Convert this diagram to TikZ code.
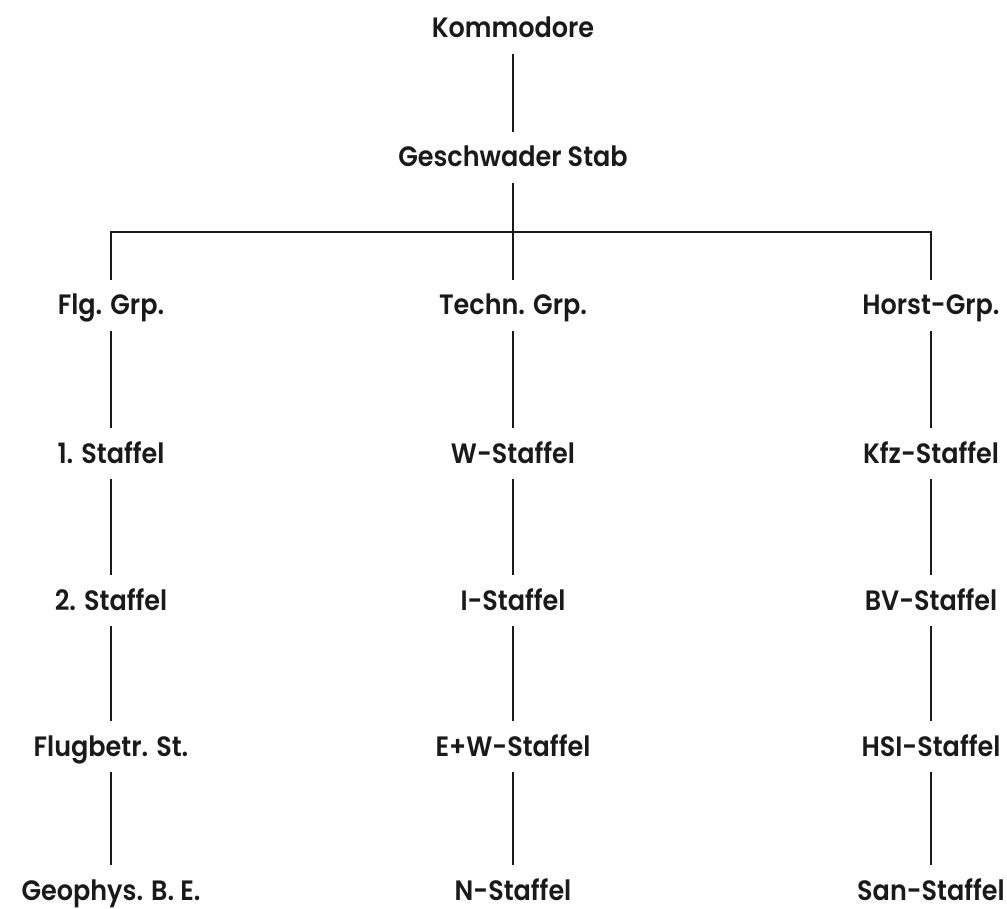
\documentclass[tikz,border=0pt]{standalone}
\usepackage{fontspec}
\setmainfont{Poppins SemiBold}[FakeStretch=0.91]
\definecolor{ink}{HTML}{1A1A1A}
\tikzset{
  unit/.style={anchor=base, font=\fontsize{28}{30}\selectfont, text=ink,
    text height=21pt, text depth=2pt, inner xsep=2pt, inner ysep=14pt},
  link/.style={draw=ink, line width=1.8pt}
}
\begin{document}
\begin{tikzpicture}[x=1pt,y=1pt]
\useasboundingbox (0,0) rectangle (1007,-909);
\node[unit] (k) at (513,-38) {Kommodore};
\node[unit] (gs) at (513,-167) {Geschwader Stab};
\coordinate (bar) at (513,-232);
% left column
\node[unit] (fg) at (111,-315) {Flg. Grp.};
\node[unit] (s1) at (111,-463) {1. Staffel};
\node[unit] (s2) at (111,-610) {2. Staffel};
\node[unit] (fb) at (111,-756) {Flugbetr. St.};
\node[unit] (ge) at (111,-900) {Geophys. B. E.};
% middle column
\node[unit] (tg) at (513,-315) {Techn. Grp.};
\node[unit] (ws) at (513,-463) {W-Staffel};
\node[unit] (is) at (513,-610) {I-Staffel};
\node[unit] (ew) at (513,-756) {E+W-Staffel};
\node[unit] (ns) at (513,-900) {N-Staffel};
% right column
\node[unit] (hg) at (931,-315) {Horst-Grp.};
\node[unit] (kf) at (931,-463) {Kfz-Staffel};
\node[unit] (bv) at (931,-610) {BV-Staffel};
\node[unit] (hs) at (931,-756) {HSI-Staffel};
\node[unit] (sa) at (931,-900) {San-Staffel};
% connectors
\draw[link] (k.south) -- (gs.north);
\draw[link] (gs.south) -- (tg.north);
\draw[link] (fg.north) |- (bar) -| (hg.north);
\draw[link] (fg.south) -- (s1.north);
\draw[link] (s1.south) -- (s2.north);
\draw[link] (s2.south) -- (fb.north);
\draw[link] (fb.south) -- (ge.north);
\draw[link] (tg.south) -- (ws.north);
\draw[link] (ws.south) -- (is.north);
\draw[link] (is.south) -- (ew.north);
\draw[link] (ew.south) -- (ns.north);
\draw[link] (hg.south) -- (kf.north);
\draw[link] (kf.south) -- (bv.north);
\draw[link] (bv.south) -- (hs.north);
\draw[link] (hs.south) -- (sa.north);
\end{tikzpicture}
\end{document}
